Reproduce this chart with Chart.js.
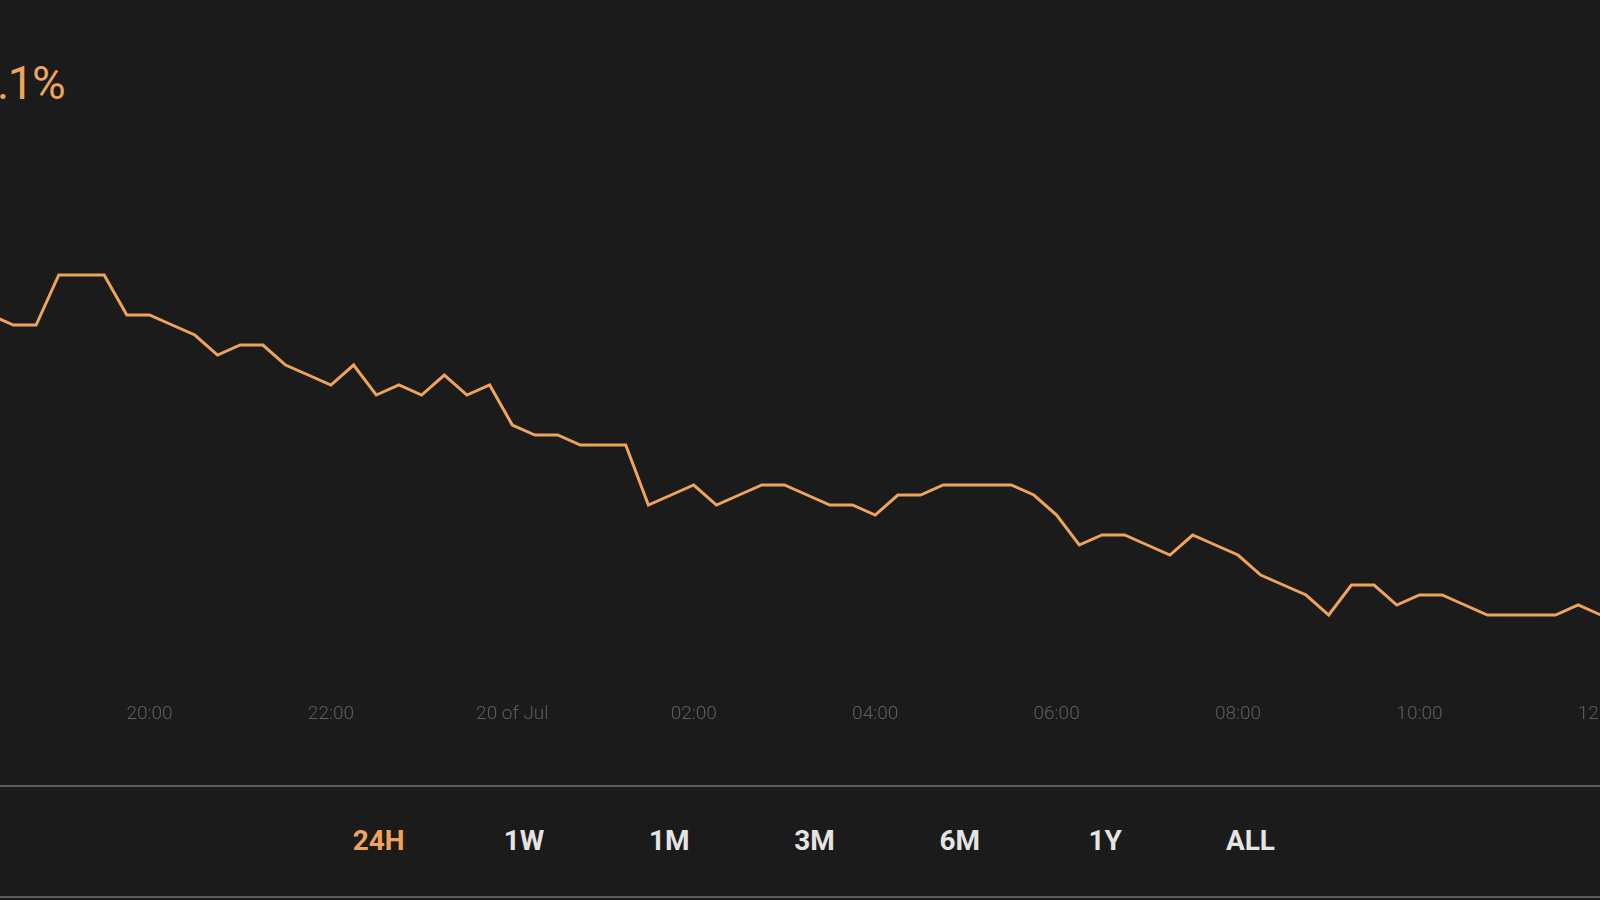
<!DOCTYPE html>
<html>
<head>
<meta charset="utf-8">
<script src="https://cdn.jsdelivr.net/npm/chart.js@4/dist/chart.umd.min.js"></script>
<style>
  html, body { margin: 0; padding: 0; background: #1b1b1b; overflow: hidden; width: 1600px; height: 900px; }
  #headline { position: absolute; left: -3px; top: 60px; font: 400 46px Roboto, sans-serif; line-height: 46px; letter-spacing: -1.5px; color: #efa35b; white-space: nowrap; }
  #wrap { position: absolute; left: 0; top: 0; width: 1700px; height: 760px; }
  .rule { position: absolute; left: 0; width: 1600px; height: 2px; background: #5c5c5c; }
  #ranges { position: absolute; left: 306px; top: 827px; display: flex; }
  #ranges div { width: 145.3px; text-align: center; font: 700 28px Roboto, sans-serif; line-height: 28px; color: #e4e4e4; }
  #ranges div.on { color: #efa35b; }
</style>
</head>
<body>
<div id="headline">.1%</div>
<div id="wrap"><canvas id="price"></canvas></div>
<div class="rule" style="top:785px"></div>
<div id="ranges"></div>
<div class="rule" style="top:896px"></div>

<script>
// 15 minute samples, 19 Jul 18:15 -> 20 Jul 12:00
var times = [
  "18:15", "18:30", "18:45",
  "19:00", "19:15", "19:30", "19:45",
  "20:00", "20:15", "20:30", "20:45",
  "21:00", "21:15", "21:30", "21:45",
  "22:00", "22:15", "22:30", "22:45",
  "23:00", "23:15", "23:30", "23:45",
  "00:00", "00:15", "00:30", "00:45",
  "01:00", "01:15", "01:30", "01:45",
  "02:00", "02:15", "02:30", "02:45",
  "03:00", "03:15", "03:30", "03:45",
  "04:00", "04:15", "04:30", "04:45",
  "05:00", "05:15", "05:30", "05:45",
  "06:00", "06:15", "06:30", "06:45",
  "07:00", "07:15", "07:30", "07:45",
  "08:00", "08:15", "08:30", "08:45",
  "09:00", "09:15", "09:30", "09:45",
  "10:00", "10:15", "10:30", "10:45",
  "11:00", "11:15", "11:30", "11:45",
  "12:00"
];

var prices = [
  6.80, 6.79, 6.79,
  6.84, 6.84, 6.84, 6.80,
  6.80, 6.79, 6.78, 6.76,
  6.77, 6.77, 6.75, 6.74,
  6.73, 6.75, 6.72, 6.73,
  6.72, 6.74, 6.72, 6.73,
  6.69, 6.68, 6.68, 6.67,
  6.67, 6.67, 6.61, 6.62,
  6.63, 6.61, 6.62, 6.63,
  6.63, 6.62, 6.61, 6.61,
  6.60, 6.62, 6.62, 6.63,
  6.63, 6.63, 6.63, 6.62,
  6.60, 6.57, 6.58, 6.58,
  6.57, 6.56, 6.58, 6.57,
  6.56, 6.54, 6.53, 6.52,
  6.50, 6.53, 6.53, 6.51,
  6.52, 6.52, 6.51, 6.50,
  6.50, 6.50, 6.50, 6.51,
  6.50
];

// axis ticks, in hours counted from 19 Jul 00:00
var tickHours = [20, 22, 24, 26, 28, 30, 32, 34, 36];
var tickLabels = ["20:00", "22:00", "20 of Jul", "02:00", "04:00", "06:00", "08:00", "10:00", "12:00"];

var rangeNames = ["24H", "1W", "1M", "3M", "6M", "1Y", "ALL"];

function toHours(t) {
  var h = parseInt(t.slice(0, 2), 10);
  var m = parseInt(t.slice(3), 10);
  if (h < 18) h += 24;
  return h + m / 60;
}

var points = times.map(function(t, i) {
  return { x: toHours(t), y: prices[i] };
});

var orange = "#efa35b";

new Chart(document.getElementById('price').getContext('2d'), {
  type: 'line',
  data: {
    datasets: [{
      data: points,
      borderColor: orange,
      borderWidth: 3,
      pointRadius: 0,
      tension: 0,
      fill: false
    }]
  },
  options: {
    responsive: true,
    maintainAspectRatio: false,
    animation: false,
    layout: { padding: 0 },
    plugins: { legend: { display: false }, tooltip: { enabled: false } },
    scales: {
      x: {
        type: 'linear',
        min: 18.352,
        max: 37.093,
        grid: { display: false, drawTicks: false },
        border: { display: false },
        afterFit: function(scale) { scale.height = 60; },
        ticks: {
          stepSize: 2,
          includeBounds: false,
          autoSkip: false,
          maxRotation: 0,
          padding: 3,
          color: '#5e5e5e',
          font: { family: 'Roboto', size: 19, weight: '300' },
          callback: function(value) {
            var i = tickHours.indexOf(value);
            return i >= 0 ? tickLabels[i] : '';
          }
        }
      },
      y: {
        display: false,
        min: 6.415,
        max: 7.115
      }
    }
  }
});

var ranges = document.getElementById('ranges');
rangeNames.forEach(function(name, i) {
  var d = document.createElement('div');
  d.textContent = name;
  if (i === 0) d.className = 'on';
  ranges.appendChild(d);
});
</script>
</body>
</html>
